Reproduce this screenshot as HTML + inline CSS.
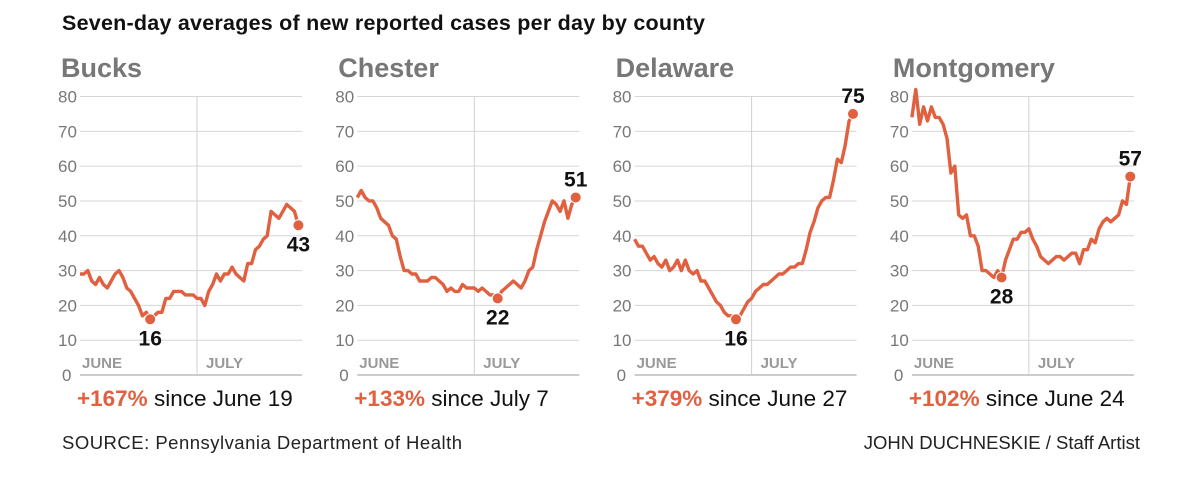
<!DOCTYPE html>
<html><head><meta charset="utf-8"><style>
body{margin:0;background:#fff;width:1200px;height:474px;overflow:hidden;font-family:"Liberation Sans",sans-serif}
</style></head><body>
<svg id="c" width="1200" height="474" xmlns="http://www.w3.org/2000/svg">
<text x="62" y="30" font-size="21.5" font-weight="bold" fill="#111" textLength="643">Seven-day averages of new reported cases per day by county</text>
<text x="62" y="449" font-size="18.5" fill="#222" textLength="400">SOURCE: Pennsylvania Department of Health</text>
<text x="1140" y="449" font-size="18.5" fill="#222" text-anchor="end">JOHN DUCHNESKIE / Staff Artist</text>
</svg>
<script>
const counties=["Bucks","Chester","Delaware","Montgomery"];
const bucks=[29,29,30,27,26,28,26,25,27,29,30,28,25,24,22,20,17,18,16,17,18,18,22,22,24,24,24,23,23,23,22,22,20,24,26,29,27,29,29,31,29,28,27,32,32,36,37,39,40,47,46,45,47,49,48,47,43];
const chester=[51,53,51,50,50,48,45,44,43,40,39,34,30,30,29,29,27,27,27,28,28,27,26,24,25,24,24,26,25,25,25,24,25,24,23,23,22,24,25,26,27,26,25,27,30,31,36,40,44,47,50,49,47,50,45,49,51];
const delaware=[39,37,37,35,33,34,32,31,33,30,31,33,30,33,30,29,30,27,27,25,23,21,20,18,17,17,16,17,19,21,22,24,25,26,26,27,28,29,29,30,31,31,32,32,36,41,44,48,50,51,51,56,62,61,66,73,75];
const montgomery=[74,82,72,77,73,77,74,74,72,68,58,60,46,45,46,40,40,37,30,30,29,28,30,28,33,36,39,39,41,41,42,39,37,34,33,32,33,34,34,33,34,35,35,32,36,36,39,38,42,44,45,44,45,46,50,49,57];
const series=[bucks,chester,delaware,montgomery];
const changes=["+167%","+133%","+379%","+102%"];
const sinceLabels=["since June 19","since July 7","since June 27","since June 24"];
const endAbove=[false,true,true,true];
const yTicks=[0,10,20,30,40,50,60,70,80];
const NS="http://www.w3.org/2000/svg";
const svg=document.getElementById('c');
const RED="#e0603f";
function mk(tag,attrs,parent){const e=document.createElementNS(NS,tag);for(const k in attrs)e.setAttribute(k,attrs[k]);(parent||svg).appendChild(e);return e;}
const Y0=375,Y80=96.5;
function y(v){return Y0-(v/80)*(Y0-Y80);}
counties.forEach((name,i)=>{
  const g=mk('g',{});
  
  
  const px=80+i*277.3, pw=222, pl=px-22;
  const data=series[i], n=data.length;
  const dayW=(197-80)/30;
  function x(d){return px+d*dayW;}
  const t=mk('text',{x:pl+3,y:77,'font-size':27,'font-weight':'bold',fill:'#777'},g);t.textContent=name;
  
  yTicks.forEach(v=>{
    const ln=mk('line',{x1:px,x2:px+pw,y1:y(v),y2:y(v),stroke:v===0?'#999':'#d6d6d6','stroke-width':1},g);
    
    const tl=mk('text',{x:pl+(v===0?4:0),y:y(v)+6,'font-size':17,fill:'#777'},g);tl.textContent=v;
    
  });
  const jl=mk('line',{x1:x(30),x2:x(30),y1:y(80),y2:y(0),stroke:'#d0d0d0','stroke-width':1},g);
  
  const m1=mk('text',{x:px+2,y:368,'font-size':15,'font-weight':'bold',fill:'#999'},g);m1.textContent='JUNE';
  
  const m2=mk('text',{x:x(30)+9,y:368,'font-size':15,'font-weight':'bold',fill:'#999'},g);m2.textContent='JULY';
  
  const pts=data.map((v,d)=>x(d).toFixed(1)+','+y(v).toFixed(1)).join(' ');
  const pl2=mk('polyline',{points:pts,fill:'none',stroke:RED,'stroke-width':3.4,'stroke-linejoin':'round'},g);
  
  let mi=0;data.forEach((v,d)=>{if(v<data[mi])mi=d;});
  if(i===3){mi=23;}
  [[mi,false],[n-1,endAbove[i]]].forEach(([d,above])=>{
    const c=mk('circle',{cx:x(d),cy:y(data[d]),r:5.5,fill:RED,stroke:'#fff','stroke-width':1},g);
    
    const lb=mk('text',{x:x(d),y:above?y(data[d])-11:y(data[d])+26,'font-size':21,'font-weight':'bold',fill:'#111','text-anchor':'middle'},g);
    lb.textContent=data[d];
    
  });
  const ch=mk('text',{x:px-3,y:406,'font-size':22.5},g);
  
  const s1=mk('tspan',{fill:RED,'font-weight':'bold'},ch);s1.textContent=changes[i];
  const s2=mk('tspan',{fill:'#111'},ch);s2.textContent=' '+sinceLabels[i];
});
</script>
</body></html>
